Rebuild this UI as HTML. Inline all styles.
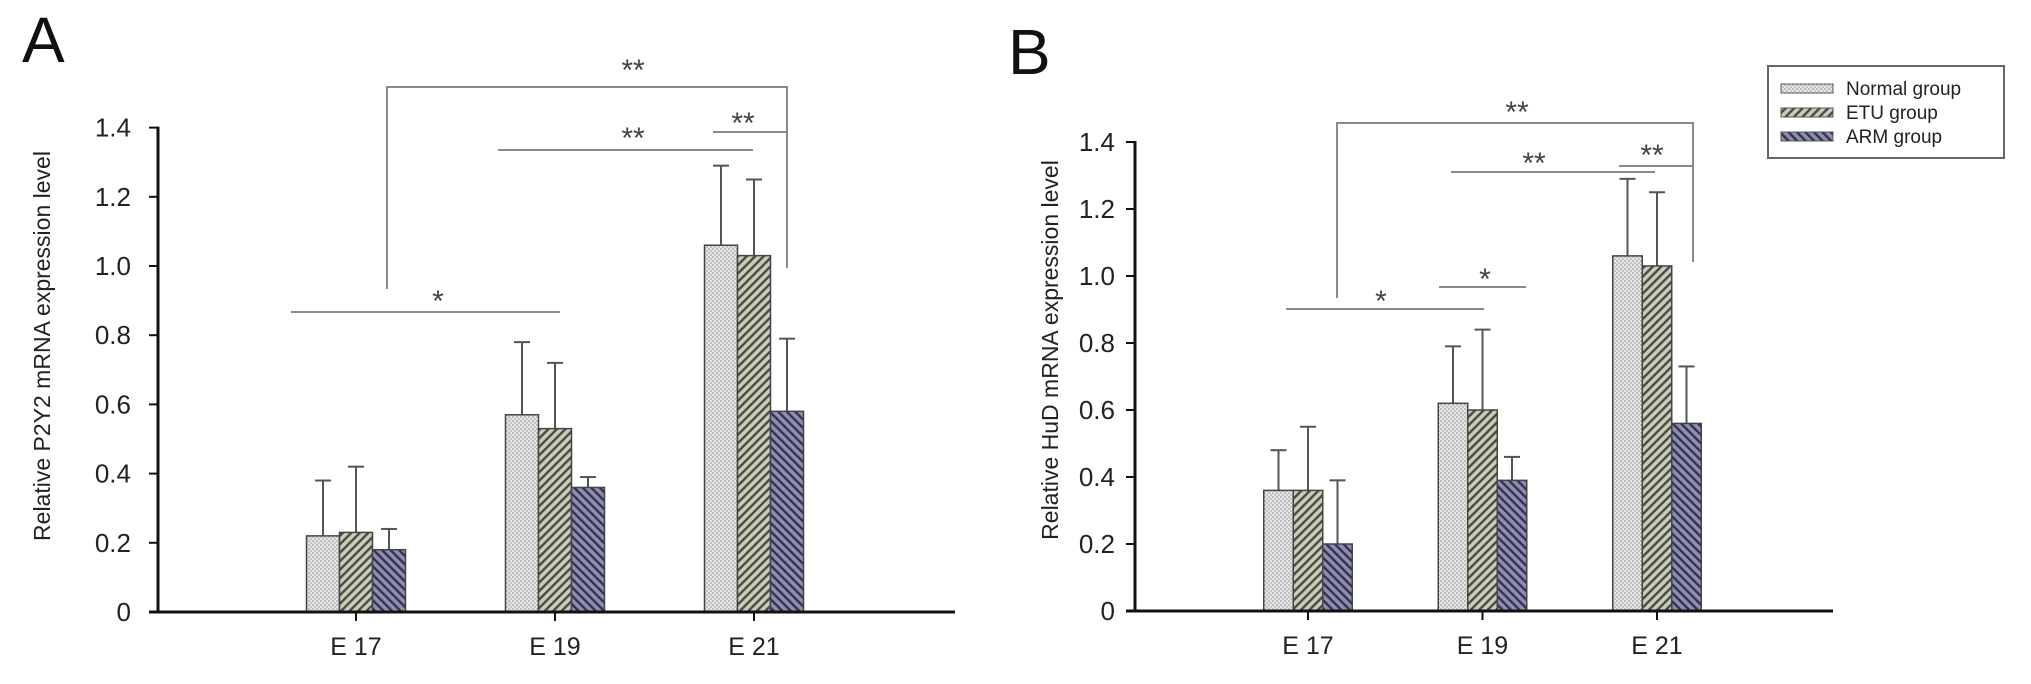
<!DOCTYPE html>
<html><head><meta charset="utf-8"><style>
html,body{margin:0;padding:0;background:#fff;}
svg{display:block;font-family:"Liberation Sans",Arial,sans-serif;}
</style></head><body>
<svg id="chart" width="2031" height="684" viewBox="0 0 2031 684" xmlns="http://www.w3.org/2000/svg">
<defs>
<pattern id="pNormal" width="4" height="4" patternUnits="userSpaceOnUse">
<rect width="4" height="4" fill="#e6e6e6"/><rect width="2" height="2" fill="#bdbdbd"/><rect x="2" y="2" width="2" height="2" fill="#c4c4c4"/>
</pattern>
<pattern id="pETU" width="6" height="6" patternUnits="userSpaceOnUse" patternTransform="rotate(45)">
<rect width="6" height="6" fill="#c9ccb6"/><rect width="2.4" height="6" fill="#4a4a44"/>
</pattern>
<pattern id="pARM" width="6" height="6" patternUnits="userSpaceOnUse" patternTransform="rotate(-45)">
<rect width="6" height="6" fill="#8d8db5"/><rect width="2.4" height="6" fill="#33334a"/>
</pattern>
</defs>
<text x="22" y="62" font-size="64" fill="#111">A</text>
<text x="1008" y="74" font-size="64" fill="#111">B</text>
<g id="legend">
<rect x="1768" y="66" width="236" height="92" fill="#fff" stroke="#666" stroke-width="2"/>
<rect x="1781" y="84" width="52" height="9" fill="url(#pNormal)" stroke="#555"/>
<text x="1846" y="95" font-size="19" fill="#222">Normal group</text>
<rect x="1781" y="108" width="52" height="9" fill="url(#pETU)" stroke="#555"/>
<text x="1846" y="119" font-size="19" fill="#222">ETU group</text>
<rect x="1781" y="132" width="52" height="9" fill="url(#pARM)" stroke="#555"/>
<text x="1846" y="143" font-size="19" fill="#222">ARM group</text>
</g>
</svg>
<script>
var categories = ["E 17", "E 19", "E 21"];
var seriesNames = ["Normal group", "ETU group", "ARM group"];
var yTicks = [0, 0.2, 0.4, 0.6, 0.8, 1.0, 1.2, 1.4];
var yTickLabels = ["0", "0.2", "0.4", "0.6", "0.8", "1.0", "1.2", "1.4"];
var aNormal = [0.22, 0.57, 1.06];
var aETU = [0.23, 0.53, 1.03];
var aARM = [0.18, 0.36, 0.58];
var aNormalErr = [0.16, 0.21, 0.23];
var aETUErr = [0.19, 0.19, 0.22];
var aARMErr = [0.06, 0.03, 0.21];
var bNormal = [0.36, 0.62, 1.06];
var bETU = [0.36, 0.60, 1.03];
var bARM = [0.20, 0.39, 0.56];
var bNormalErr = [0.12, 0.17, 0.23];
var bETUErr = [0.19, 0.24, 0.22];
var bARMErr = [0.19, 0.07, 0.17];

var NS = "http://www.w3.org/2000/svg";
var svg = document.getElementById("chart");
var fills = ["url(#pNormal)", "url(#pETU)", "url(#pARM)"];
var keys = ["normal", "etu", "arm"];

function mk(tag, attrs, parent) {
  var e = document.createElementNS(NS, tag);
  for (var k in attrs) e.setAttribute(k, attrs[k]);
  (parent || svg).appendChild(e);
  return e;
}

function drawPanel(p, vals, errs, title) {
  var g = mk("g", {});
  
  
  function y(v) { return p.y0 - v * p.yScale; }
  function xc(i) { return p.cx0 + i * p.step; }
  for (var t = 0; t < yTicks.length; t++) {
    var ty = y(yTicks[t]);
    var tk = mk("line", {x1: p.ax - 9, x2: p.ax, y1: ty, y2: ty, stroke: "#111", "stroke-width": 2}, g);
    
    
    var tl = mk("text", {x: p.ax - p.labelGap, y: ty + 9, "font-size": 26, "text-anchor": "end", fill: "#222"}, g);
    tl.textContent = yTickLabels[t];
    
    
  }
  for (var i = 0; i < categories.length; i++) {
    for (var s = 0; s < 3; s++) {
      var bx = xc(i) + (s - 1.5) * p.bw;
      var v = vals[s][i], e = errs[s][i];
      var top = y(v + e);
      var el = mk("line", {x1: bx + p.bw / 2, x2: bx + p.bw / 2, y1: y(v), y2: top, stroke: "#555", "stroke-width": 2}, g);
      
      
      var cap = mk("line", {x1: bx + p.bw / 2 - 8, x2: bx + p.bw / 2 + 8, y1: top, y2: top, stroke: "#555", "stroke-width": 2}, g);
      
      
      var r = mk("rect", {x: bx, y: y(v), width: p.bw, height: p.y0 - y(v), fill: fills[s], stroke: "#444", "stroke-width": 1.5}, g);
      
      
    }
    var xt = mk("line", {x1: xc(i), x2: xc(i), y1: p.y0, y2: p.y0 + 9, stroke: "#111", "stroke-width": 2}, g);
    
    
    var xl = mk("text", {x: xc(i), y: p.y0 + 43, "font-size": 25, "text-anchor": "middle", fill: "#222"}, g);
    xl.textContent = categories[i];
    
    
  }
  var ya = mk("line", {x1: p.ax, x2: p.ax, y1: y(1.4) - 1, y2: p.y0 + 1, stroke: "#111", "stroke-width": 3}, g);
  
  
  var xa = mk("line", {x1: p.ax - 9, x2: p.axEnd, y1: p.y0, y2: p.y0, stroke: "#111", "stroke-width": 3}, g);
  
  
  var tt = mk("text", {x: 0, y: 0, "font-size": 23, "text-anchor": "middle", fill: "#222", transform: "translate(" + p.titleX + "," + p.titleY + ") rotate(-90)"}, g);
  tt.textContent = title;
  
  
  for (var k = 0; k < p.sig.length; k++) {
    var a = p.sig[k];
    var pts = a.pts.map(function (q) { return q.join(","); }).join(" ");
    var pl = mk("polyline", {points: pts, fill: "none", stroke: "#8a8a8a", "stroke-width": 2}, g);
    
    
    var st = mk("text", {x: a.tx, y: a.ty, "font-size": 30, "text-anchor": "middle", fill: "#444"}, g);
    st.textContent = a.label;
    
    
  }
}

drawPanel({id: "a", ax: 158, axEnd: 955, y0: 612, yScale: 346, cx0: 356, step: 199, bw: 33, titleX: 50, titleY: 346, labelGap: 27,
  sig: [
    {pts: [[387, 289], [387, 87], [787, 87], [787, 268]], tx: 633, ty: 80, label: "**"},
    {pts: [[498, 150], [753, 150]], tx: 633, ty: 148, label: "**"},
    {pts: [[713, 132], [787, 132]], tx: 743, ty: 133, label: "**"},
    {pts: [[291, 312], [560, 312]], tx: 438, ty: 311, label: "*"}
  ]},
  [aNormal, aETU, aARM], [aNormalErr, aETUErr, aARMErr], "Relative P2Y2 mRNA expression level");

drawPanel({id: "b", ax: 1135, axEnd: 1833, y0: 611, yScale: 335, cx0: 1308, step: 174.5, bw: 29.5, titleX: 1058, titleY: 350, labelGap: 20,
  sig: [
    {pts: [[1337, 298], [1337, 123], [1693, 123], [1693, 262]], tx: 1517, ty: 122, label: "**"},
    {pts: [[1451, 172], [1655, 172]], tx: 1534, ty: 173, label: "**"},
    {pts: [[1619, 166], [1693, 166]], tx: 1652, ty: 165, label: "**"},
    {pts: [[1286, 309], [1484, 309]], tx: 1381, ty: 311, label: "*"},
    {pts: [[1439, 287], [1526, 287]], tx: 1485, ty: 289, label: "*"}
  ]},
  [bNormal, bETU, bARM], [bNormalErr, bETUErr, bARMErr], "Relative HuD mRNA expression level");
</script>
</body></html>
